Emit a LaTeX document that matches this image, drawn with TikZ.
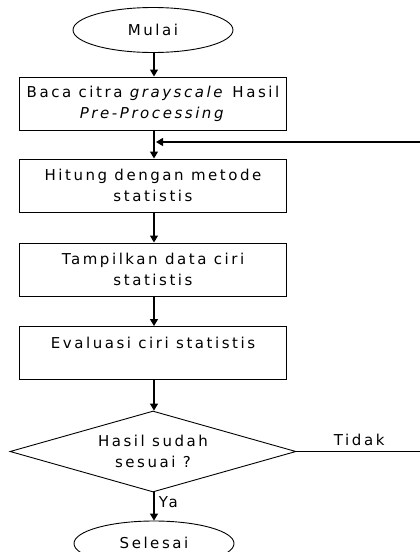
\documentclass[tikz,border=0pt]{standalone}
\usepackage{fontspec}
\setmainfont{DejaVu Sans}[LetterSpace=17]
\usetikzlibrary{shapes.geometric,arrows.meta}
\begin{document}
\begin{tikzpicture}[x=1pt,y=-1pt,
  every node/.style={font=\fontsize{15}{21}\selectfont},
  stepbox/.style={draw,line width=1pt,rectangle,minimum width=267pt,minimum height=53pt,
    inner sep=0pt,align=center},
  term/.style={draw,line width=0.9pt,ellipse,minimum width=160pt,minimum height=45pt,inner sep=0pt},
  decide/.style={draw,line width=0.9pt,diamond,aspect=3.5,minimum width=286pt,minimum height=81pt,
    inner sep=0pt,align=center},
  flow/.style={line width=1.3pt,-{Triangle[length=7pt,width=8pt]}},
  plain/.style={line width=1.1pt}]
\useasboundingbox (0,0) rectangle (420,552);
\fill[white] (0,0) rectangle (420,552);

\node[term]     (start) at (153,30)    {Mulai};
\node[stepbox]  (read)  at (153,103.5) {Baca citra \textit{grayscale} Hasil\\\textit{Pre-Processing}};
\node[stepbox]  (calc)  at (153,185.5) {Hitung dengan metode\\statistis};
\node[stepbox]  (show)  at (153,269.5) {Tampilkan data ciri\\statistis};
\node[stepbox]  (eval)  at (153,353)   {Evaluasi ciri statistis\\\mbox{}};
\node[decide]   (check) at (153,451.5) {Hasil sudah\\sesuai ?};
\node[term]     (stop)  at (154,543.5) {\raisebox{2pt}{Selesai}};

\coordinate (join)    at (154,142);
\coordinate (loopTop) at (422,142);
\coordinate (loopBot) at (422,451.5);

\draw[flow] (start.south -| join) -- (read.north -| join);
\draw[flow] (read.south -| join) -- (calc.north -| join);
\draw[flow] (calc.south -| join) -- (show.north -| join);
\draw[flow] (show.south -| join) -- (eval.north -| join);
\draw[flow] (eval.south -| join) -- (check.north -| join);
\draw[flow] (check.south -| join) -- node[right=1pt,pos=0.35]{Ya} (stop.north -| join);

\draw[plain] (check.east) -- node[above=2pt]{Tidak} (loopBot) -- (loopTop);
\draw[flow,line width=1.1pt,shorten >=2pt] (loopTop) -- (join);
\end{tikzpicture}
\end{document}
